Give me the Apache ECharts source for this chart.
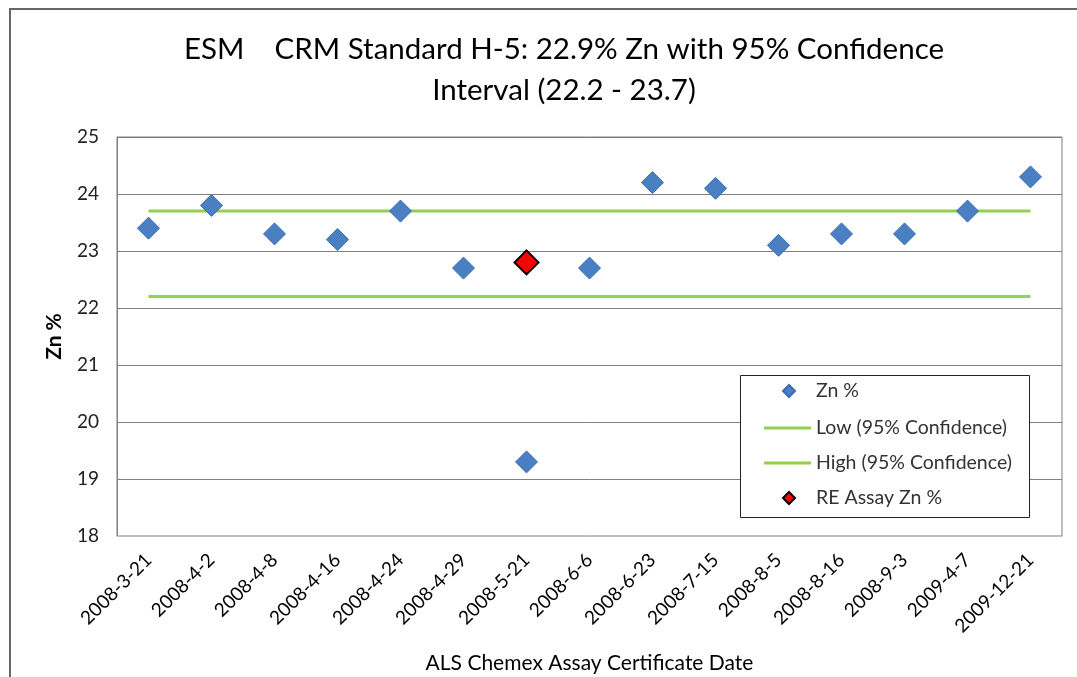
<!DOCTYPE html>
<html>
<head>
<meta charset="utf-8">
<script src="https://cdn.jsdelivr.net/npm/echarts@6/dist/echarts.min.js"></script>
<style>
  html, body { margin: 0; padding: 0; background: #fff; }
  #main { width: 1077px; height: 677px; }
</style>
</head>
<body>
<div id="main"></div>
<script>
// certificate dates (x categories)
var dates = ['2008-3-21', '2008-4-2', '2008-4-8', '2008-4-16', '2008-4-24', '2008-4-29', '2008-5-21',
  '2008-6-6', '2008-6-23', '2008-7-15', '2008-8-5', '2008-8-16', '2008-9-3', '2009-4-7', '2009-12-21'];
// Zn % assays
var znValues = [23.4, 23.8, 23.3, 23.2, 23.7, 22.7, 19.3, 22.7, 24.2, 24.1, 23.1, 23.3, 23.3, 23.7, 24.3];
// RE assay (only one)
var reValues = [null, null, null, null, null, null, 22.8, null, null, null, null, null, null, null, null];
// 95% confidence limits
var lowValues = [22.2, 22.2, 22.2, 22.2, 22.2, 22.2, 22.2, 22.2, 22.2, 22.2, 22.2, 22.2, 22.2, 22.2, 22.2];
var highValues = [23.7, 23.7, 23.7, 23.7, 23.7, 23.7, 23.7, 23.7, 23.7, 23.7, 23.7, 23.7, 23.7, 23.7, 23.7];

var font = 'Lato';
var green = '#92d050';
var chart = echarts.init(document.getElementById('main'));

// legend text style, shared
var legendText = { fontFamily: font, fontSize: 19.5, color: '#333', lineHeight: 20 };

var option = {
  backgroundColor: '#ffffff',
  animation: false,
  textStyle: { fontFamily: font },
  title: {
    text: 'ESM    CRM Standard H-5: 22.9% Zn with 95% Confidence\nInterval (22.2 - 23.7)',
    left: 559,
    top: 24,
    textAlign: 'center',
    textStyle: { fontFamily: font, fontSize: 29.5, fontWeight: 'normal', color: '#000', lineHeight: 41 }
  },
  graphic: [{
    type: 'rect',
    shape: { x: 10, y: 9, width: 1100, height: 700 },
    style: { fill: 'none', stroke: '#666', lineWidth: 2 },
    silent: true
  }, {
    // legend box
    type: 'rect',
    shape: { x: 740.5, y: 375.5, width: 289, height: 142 },
    style: { fill: '#fff', stroke: '#222', lineWidth: 1 },
    z: 5,
    silent: true
  }],
  grid: {
    left: 117, right: 15, top: 137, bottom: 141,
    outerBoundsMode: 'none',
    show: true, borderColor: '#7f7f7f', borderWidth: 1
  },
  legend: [{
    left: 782, top: 381, padding: 0, z: 6,
    itemWidth: 12, itemHeight: 12,
    textStyle: Object.assign({ padding: [0, 0, 0, 16] }, legendText),
    data: [{ name: 'Zn %', icon: 'diamond' }]
  }, {
    orient: 'vertical',
    left: 764, top: 418, padding: 0, z: 6,
    itemWidth: 47, itemHeight: 3, itemGap: 15,
    textStyle: legendText,
    data: [
      { name: 'Low (95% Confidence)', icon: 'rect' },
      { name: 'High (95% Confidence)', icon: 'rect' }
    ]
  }, {
    left: 782, top: 488, padding: 0, z: 6,
    itemWidth: 12, itemHeight: 12,
    textStyle: Object.assign({ padding: [0, 0, 0, 16] }, legendText),
    data: [{ name: 'RE Assay Zn %', icon: 'diamond' }]
  }],
  xAxis: {
    type: 'category',
    data: dates,
    boundaryGap: true,
    name: 'ALS Chemex Assay Certificate Date',
    nameLocation: 'middle',
    nameGap: 117,
    nameTextStyle: { fontFamily: font, fontSize: 21, color: '#000' },
    axisLine: { lineStyle: { color: '#bfbfbf' } },
    axisTick: { show: false },
    axisLabel: { rotate: 45, margin: 21, fontSize: 19, color: '#000', interval: 0 }
  },
  yAxis: {
    type: 'value',
    min: 18,
    max: 25,
    interval: 1,
    name: 'Zn %',
    nameLocation: 'middle',
    nameGap: 52,
    nameTextStyle: { fontFamily: font, fontSize: 21, color: '#000', fontWeight: 'bold' },
    axisLine: { show: true, lineStyle: { color: '#7f7f7f' } },
    axisTick: { show: false },
    axisLabel: { fontSize: 19, color: '#222', margin: 18 },
    splitLine: { lineStyle: { color: '#7f7f7f', width: 1 } }
  },
  series: [
    {
      name: 'Low (95% Confidence)',
      type: 'line',
      data: lowValues,
      symbol: 'none',
      lineStyle: { color: green, width: 3 },
      itemStyle: { color: green },
      z: 2
    },
    {
      name: 'High (95% Confidence)',
      type: 'line',
      data: highValues,
      symbol: 'none',
      lineStyle: { color: green, width: 3 },
      itemStyle: { color: green },
      z: 2
    },
    {
      name: 'Zn %',
      type: 'scatter',
      data: znValues,
      symbol: 'diamond',
      symbolSize: 22,
      itemStyle: { color: '#4a7fc1', borderColor: '#3a6db3', borderWidth: 1, opacity: 1 },
      z: 3
    },
    {
      name: 'RE Assay Zn %',
      type: 'scatter',
      data: reValues,
      symbol: 'diamond',
      symbolSize: 24,
      itemStyle: { color: '#ff0000', borderColor: '#000', borderWidth: 2, opacity: 1 },
      z: 4
    }
  ]
};

chart.setOption(option);
</script>
</body>
</html>
